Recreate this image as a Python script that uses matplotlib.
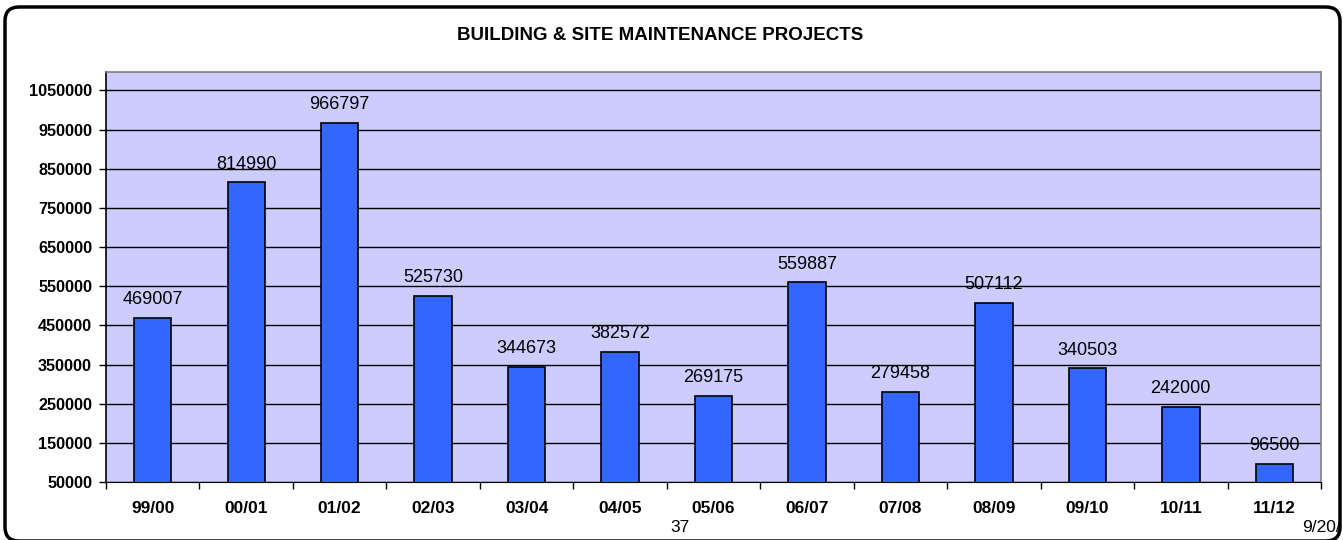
import matplotlib
matplotlib.use("Agg")
import matplotlib.pyplot as plt
from matplotlib.patches import FancyBboxPatch
from matplotlib.transforms import IdentityTransform
import numpy as np

plt.rcParams['font.family'] = ['Liberation Sans', 'DejaVu Sans']

# data
years = ["99/00", "00/01", "01/02", "02/03", "03/04", "04/05", "05/06",
         "06/07", "07/08", "08/09", "09/10", "10/11", "11/12"]
amounts = [469007, 814990, 966797, 525730, 344673, 382572, 269175,
           559887, 279458, 507112, 340503, 242000, 96500]
yticks = list(range(50000, 1050001, 100000))

fig = plt.figure(figsize=(13.43, 5.40), dpi=100)
ax = fig.add_axes([106 / 1343, 58 / 540, 1215 / 1343, 410 / 540])

x = np.arange(len(years))
ax.set_facecolor("#CCCCFF")
ax.set_axisbelow(True)
ax.grid(axis="y", color="black", linewidth=1)
bars = ax.bar(x, amounts, width=0.4, color="#3366FF", edgecolor="black",
              linewidth=1.2, zorder=3)

for xi, v in zip(x, amounts):
    ax.annotate(str(v), (xi, v), xytext=(0, 7), textcoords="offset points",
                ha="center", va="bottom", fontsize=13, zorder=4)

ax.set_xlim(-0.5, len(years) - 0.5)
ax.set_ylim(50000, 1097000)
ax.set_yticks(yticks)
ax.set_yticklabels([str(t) for t in yticks], fontweight="bold", fontsize=11.7)
ax.tick_params(axis="y", length=5, width=1, pad=5)

ax.set_xticks(x)
ax.set_xticklabels(years, fontweight="bold", fontsize=12.5)
ax.set_xticks(np.arange(len(years) + 1) - 0.5, minor=True)
ax.tick_params(axis="x", which="major", length=0, pad=14)
ax.tick_params(axis="x", which="minor", length=5, width=1)

for side in ["top", "right", "left"]:
    ax.spines[side].set_color("#808080")
    ax.spines[side].set_linewidth(1.2)
ax.spines["bottom"].set_color("black")
ax.spines["left"].set_color("black")

fig.text(660 / 1343, 1 - 35 / 540, "BUILDING & SITE MAINTENANCE PROJECTS",
         ha="center", va="center", fontweight="bold", fontsize=13.5)
fig.text(680 / 1343, 1 - 528 / 540, "37", ha="center", va="center", fontsize=12.5)
fig.text(1302 / 1343, 1 - 528 / 540, "9/20/", ha="left", va="center", fontsize=12.5)

# rounded outer frame, in pixels
frame = FancyBboxPatch((5, -1), 1335, 534, boxstyle="round,pad=0,rounding_size=14",
                       transform=IdentityTransform(), facecolor="none",
                       edgecolor="black", linewidth=2.5)
fig.patches.append(frame)

fig.savefig("out.png", dpi=100)
